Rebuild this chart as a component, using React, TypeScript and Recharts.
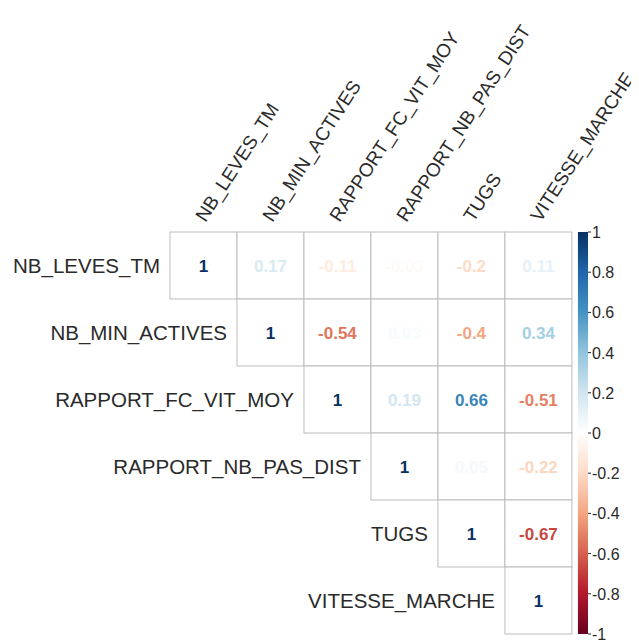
import { ReferenceArea, Scatter, ScatterChart, XAxis, YAxis } from 'recharts';

const variables = [
  'NB_LEVES_TM',
  'NB_MIN_ACTIVES',
  'RAPPORT_FC_VIT_MOY',
  'RAPPORT_NB_PAS_DIST',
  'TUGS',
  'VITESSE_MARCHE',
];

// upper triangle, one row per variable, starting on the diagonal
const nbLevesTm = [1, 0.17, -0.11, -0.03, -0.2, 0.11];
const nbMinActives = [1, -0.54, 0.03, -0.4, 0.34];
const rapportFcVitMoy = [1, 0.19, 0.66, -0.51];
const rapportNbPasDist = [1, 0.05, -0.22];
const tugs = [1, -0.67];
const vitesseMarche = [1];

const colorbarTicks = [-1, -0.8, -0.6, -0.4, -0.2, 0, 0.2, 0.4, 0.6, 0.8, 1];

const palette = [
  '#67001F', '#B2182B', '#D6604D', '#F4A582', '#FDDBC7', '#FFFFFF',
  '#D1E5F0', '#92C5DE', '#4393C3', '#2166AC', '#053061',
];

const rows = [nbLevesTm, nbMinActives, rapportFcVitMoy, rapportNbPasDist, tugs, vitesseMarche];
const cells = rows.flatMap((vals, r) => vals.map((value, k) => ({ col: r + k, row: r, value })));

const FONT = '"Liberation Sans", Arial, sans-serif';
const WIDTH = 631;
const HEIGHT = 634;
const MARGIN = { top: 0, right: 6, bottom: 8, left: 162 };
const CB_WIDTH = 45;
const X_MAX = 5.74;
const CELL = (WIDTH - MARGIN.left - MARGIN.right - CB_WIDTH) / (X_MAX + 0.5);

const hex = (h: string) => [1, 3, 5].map((i) => parseInt(h.slice(i, i + 2), 16));

const colorFor = (v: number) => {
  const t = ((v + 1) / 2) * (palette.length - 1);
  const i = Math.min(palette.length - 2, Math.floor(t));
  const f = t - i;
  const a = hex(palette[i]);
  const b = hex(palette[i + 1]);
  const c = a.map((x, j) => Math.round(x + (b[j] - x) * f));
  return `rgb(${c[0]},${c[1]},${c[2]})`;
};

const CellShape = (props: any) => {
  const { cx, cy, payload } = props;
  const half = CELL / 2;
  return (
    <g>
      <rect x={cx - half} y={cy - half} width={CELL} height={CELL} fill="#fff" stroke="#bdbdbd" strokeWidth={1} />
      <text
        x={cx}
        y={cy + 6}
        textAnchor="middle"
        fontFamily={FONT}
        fontWeight="bold"
        fontSize={17}
        fill={colorFor(payload.value)}
      >
        {String(payload.value)}
      </text>
      {payload.row === payload.col && (
        <text x={cx - half - 10} y={cy + 7} textAnchor="end" fontFamily={FONT} fontSize={20.5} fill="#2a2a2a">
          {variables[payload.row]}
        </text>
      )}
    </g>
  );
};

const ColumnTick = (props: any) => {
  const { x, y, payload } = props;
  return (
    <text
      transform={`translate(${x + 2},${y - 9}) rotate(-57)`}
      textAnchor="start"
      fontFamily={FONT}
      fontSize={19}
      fill="#2a2a2a"
    >
      {variables[payload.value]}
    </text>
  );
};

const ColorbarTick = (props: any) => {
  const { x, y, payload } = props;
  return (
    <text x={x} y={y + 6} textAnchor="start" fontFamily={FONT} fontSize={16} fill="#2a2a2a">
      {String(payload.value)}
    </text>
  );
};

export default function App() {
  return (
    <ScatterChart width={WIDTH} height={HEIGHT} margin={MARGIN}>
      <defs>
        <linearGradient id="rdbu" x1="0" y1="0" x2="0" y2="1">
          {palette
            .slice()
            .reverse()
            .map((c, i) => (
              <stop key={c} offset={`${(i / (palette.length - 1)) * 100}%`} stopColor={c} />
            ))}
        </linearGradient>
      </defs>
      <XAxis
        type="number"
        dataKey="col"
        domain={[-0.5, X_MAX]}
        orientation="top"
        height={224}
        ticks={[0, 1, 2, 3, 4, 5]}
        interval={0}
        axisLine={false}
        tickLine={false}
        tickSize={0}
        tickMargin={0}
        tick={<ColumnTick />}
      />
      <YAxis yAxisId="grid" type="number" dataKey="row" domain={[-0.5, 5.5]} reversed hide />
      <YAxis
        yAxisId="cb"
        type="number"
        orientation="right"
        domain={[-1, 1]}
        ticks={colorbarTicks}
        interval={0}
        width={CB_WIDTH}
        axisLine={false}
        tickLine={{ stroke: '#222' }}
        tickSize={3}
        tickMargin={1}
        tick={<ColorbarTick />}
        allowDataOverflow
      />
      <ReferenceArea
        yAxisId="cb"
        x1={5.59}
        x2={X_MAX}
        y1={-1}
        y2={1}
        fill="url(#rdbu)"
        fillOpacity={1}
        stroke="none"
        ifOverflow="visible"
      />
      <Scatter yAxisId="grid" data={cells} shape={<CellShape />} isAnimationActive={false} />
    </ScatterChart>
  );
}
